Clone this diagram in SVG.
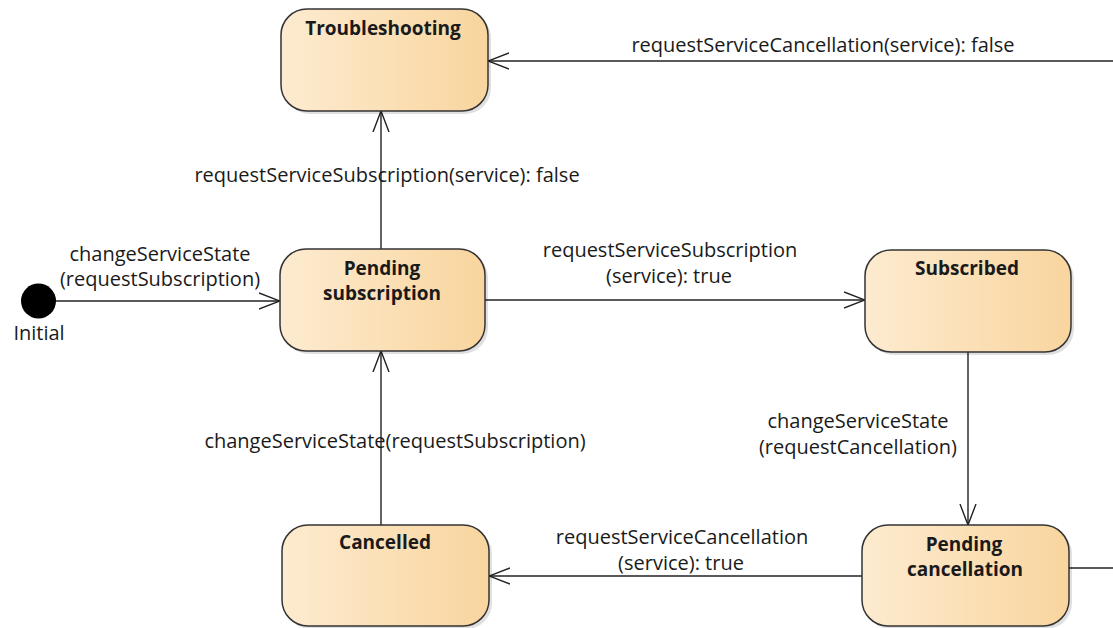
<svg xmlns="http://www.w3.org/2000/svg" width="1113" height="628" viewBox="0 0 1113 628">
  <defs>
    <linearGradient id="stateFill" x1="0" y1="0" x2="1" y2="0">
      <stop offset="0" stop-color="#fdebd0"/>
      <stop offset="1" stop-color="#f9d59e"/>
    </linearGradient>
    <marker id="open" viewBox="0 0 22 18" refX="21" refY="9" markerWidth="22" markerHeight="18" markerUnits="userSpaceOnUse" orient="auto">
      <path d="M0,1 L21,9 L0,17" fill="none" stroke="#222" stroke-width="1.4"/>
    </marker>
  </defs>
  <style>
    .state { fill: url(#stateFill); stroke: #333; stroke-width: 1.5; }
    .shadow { fill: #000; opacity: 0.12; }
    .name { font-family: "Open Sans", sans-serif; font-weight: bold; font-size: 19px; fill: #1a1a1a; text-anchor: middle; }
    .edge { stroke: #222; stroke-width: 1.4; fill: none; }
    .lbl { font-family: "Open Sans", sans-serif; font-size: 20px; fill: #1a1a1a; text-anchor: middle; }
  </style>
  <rect width="1113" height="628" fill="#fff"/>

  <!-- transitions -->
  <g id="connectors">
    <line class="edge" x1="1113" y1="61" x2="488" y2="61" marker-end="url(#open)"/>
    <line class="edge" x1="1069" y1="568" x2="1113" y2="568"/>
    <line class="edge" x1="54" y1="301" x2="280" y2="301" marker-end="url(#open)"/>
    <line class="edge" x1="381" y1="249" x2="381" y2="111" marker-end="url(#open)"/>
    <line class="edge" x1="485" y1="300" x2="865" y2="300" marker-end="url(#open)"/>
    <line class="edge" x1="968" y1="352" x2="968" y2="525" marker-end="url(#open)"/>
    <line class="edge" x1="862" y1="576" x2="489" y2="576" marker-end="url(#open)"/>
    <line class="edge" x1="381" y1="525" x2="381" y2="351" marker-end="url(#open)"/>

    <text class="lbl" x="823" y="52">requestServiceCancellation(service): false</text>
    <text class="lbl" x="160" y="261">changeServiceState</text>
    <text class="lbl" x="160" y="286">(requestSubscription)</text>
    <text class="lbl" x="387" y="182">requestServiceSubscription(service): false</text>
    <text class="lbl" x="670" y="257">requestServiceSubscription</text>
    <text class="lbl" x="669" y="283">(service): true</text>
    <text class="lbl" x="858" y="428">changeServiceState</text>
    <text class="lbl" x="858" y="454">(requestCancellation)</text>
    <text class="lbl" x="682" y="544">requestServiceCancellation</text>
    <text class="lbl" x="681" y="570">(service): true</text>
    <text class="lbl" x="395" y="448">changeServiceState(requestSubscription)</text>
  </g>

  <g id="initial">
    <circle cx="38.5" cy="301" r="17.5" fill="#000"/>
    <text class="lbl" x="39" y="340">Initial</text>
  </g>

  <g id="troubleshooting">
    <rect class="shadow" x="284" y="12" width="207" height="102" rx="26"/>
    <rect class="state" x="281" y="9" width="207" height="102" rx="26"/>
    <text class="name" x="383" y="35">Troubleshooting</text>
  </g>

  <g id="pending-subscription">
    <rect class="shadow" x="283" y="252" width="205" height="102" rx="26"/>
    <rect class="state" x="280" y="249" width="205" height="102" rx="26"/>
    <text class="name" x="382" y="275">Pending</text>
    <text class="name" x="382" y="300">subscription</text>
  </g>

  <g id="subscribed">
    <rect class="shadow" x="868" y="253" width="206" height="102" rx="26"/>
    <rect class="state" x="865" y="250" width="206" height="102" rx="26"/>
    <text class="name" x="967" y="275">Subscribed</text>
  </g>

  <g id="pending-cancellation">
    <rect class="shadow" x="865" y="528" width="207" height="101" rx="26"/>
    <rect class="state" x="862" y="525" width="207" height="101" rx="26"/>
    <text class="name" x="964" y="551">Pending</text>
    <text class="name" x="965" y="576">cancellation</text>
  </g>

  <g id="cancelled">
    <rect class="shadow" x="285" y="528" width="207" height="101" rx="26"/>
    <rect class="state" x="282" y="525" width="207" height="101" rx="26"/>
    <text class="name" x="385" y="549">Cancelled</text>
  </g>
</svg>
